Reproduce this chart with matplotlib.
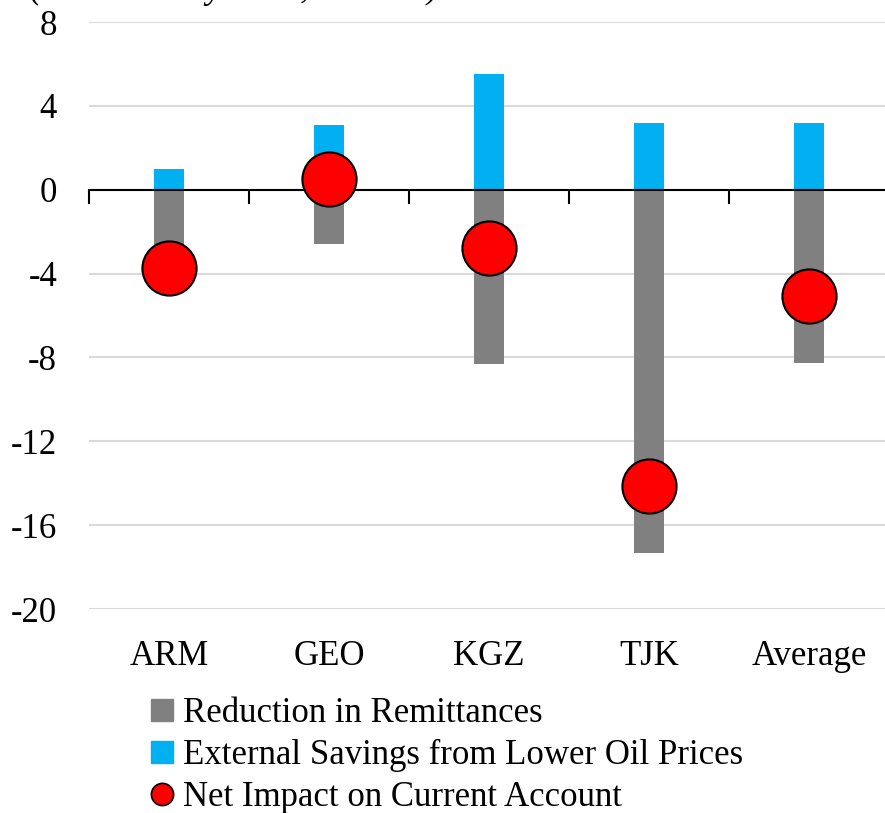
import numpy as np
import matplotlib
matplotlib.use('Agg')
import matplotlib.pyplot as plt
from matplotlib.lines import Line2D

plt.rcParams['font.family'] = ['Liberation Serif', 'DejaVu Serif']

# data
countries = ['ARM', 'GEO', 'KGZ', 'TJK', 'Average']
remittances = [-4.75, -2.6, -8.3, -17.35, -8.27]
oil_savings = [1.0, 3.1, 5.5, 3.2, 3.2]
net_impact = [-3.75, 0.5, -2.8, -14.15, -5.07]
yticks = [8, 4, 0, -4, -8, -12, -16, -20]

gray = '#808080'
blue = '#00B0F0'
red = '#FF0000'

fig = plt.figure(figsize=(8.85, 8.13), dpi=100)
ax = fig.add_axes([89/885, 1 - 609/813, 800/885, (609 - 22)/813])

x = np.arange(len(countries))
ax.bar(x, remittances, width=0.19, color=gray, zorder=2)
ax.bar(x, oil_savings, width=0.19, color=blue, zorder=2)
ax.plot(x, net_impact, 'o', ms=39, mfc=red, mec='black', mew=1.5, ls='none', zorder=4)

ax.set_xlim(-0.5, 4.5)
ax.set_ylim(-20, 8)
ax.set_yticks(yticks)
ax.set_yticklabels([str(v) for v in yticks], fontsize=25)
ax.tick_params(axis='y', length=0, pad=23)
ax.grid(axis='y', color='#d9d9d9', lw=1.5, zorder=0)
ax.set_axisbelow(True)

for s in ['left', 'right', 'top']:
    ax.spines[s].set_visible(False)
# zero line with tick marks between categories
ax.spines['bottom'].set_position(('data', 0))
ax.spines['bottom'].set_linewidth(1.5)
ax.spines['bottom'].set_zorder(3)
ax.set_xticks(np.arange(-0.5, 5, 1.0))
ax.set_xticklabels([])
ax.tick_params(axis='x', direction='out', length=10, width=1.5, color='black')

sec = ax.secondary_xaxis('bottom')
sec.set_xticks(x)
sec.set_xticklabels(countries, fontsize=25)
sec.tick_params(length=0, pad=22)
sec.spines['bottom'].set_visible(False)

# subtitle, mostly cut off by the top edge in the original
fig.text(30/885, 1 + 2/813, '(Estimated by 2015, % GDP)', fontsize=25,
         style='italic', ha='left', va='baseline')

handles = [
    Line2D([], [], marker='s', ls='none', ms=16, mfc=gray, mec=gray),
    Line2D([], [], marker='s', ls='none', ms=16, mfc=blue, mec=blue),
    Line2D([], [], marker='o', ls='none', ms=16, mfc=red, mec='black', mew=1.2),
]
labels = ['Reduction in Remittances', 'External Savings from Lower Oil Prices',
          'Net Impact on Current Account']
fig.legend(handles, labels, loc='upper left', bbox_to_anchor=(150/885, 1 - 697/813),
           frameon=False, fontsize=25, handlelength=0.7, handletextpad=0.24,
           labelspacing=0.26, borderpad=0, borderaxespad=0)

fig.savefig('out.png', dpi=100)
